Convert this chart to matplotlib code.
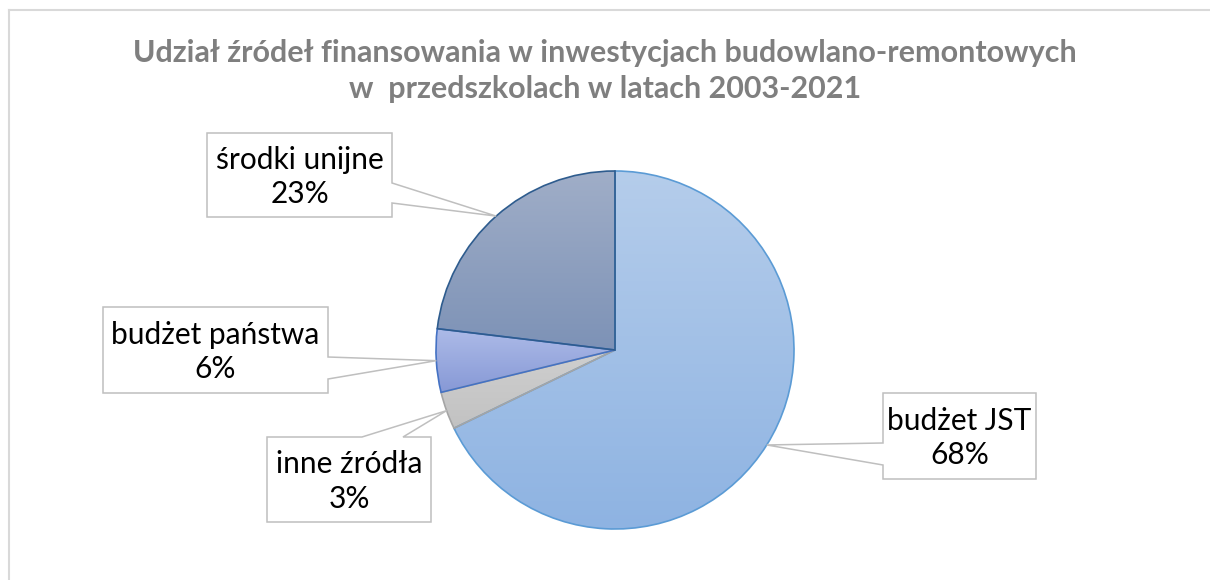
import numpy as np
import matplotlib.pyplot as plt
from matplotlib.patches import Polygon
from matplotlib.colors import LinearSegmentedColormap

plt.rcParams['font.family'] = ['Lato', 'DejaVu Sans']

# data
labels = ['budżet JST', 'inne źródła', 'budżet państwa', 'środki unijne']
shares = [67.8, 3.4, 5.7, 23.1]
title_lines = ['Udział źródeł finansowania w inwestycjach budowlano-remontowych',
               'w  przedszkolach w latach 2003-2021']

# slice styles: (gradient top, gradient bottom, edge)
styles = [('#b5cdeb', '#8eb3e2', '#5b9bd5'),
          ('#cfcfcf', '#c2c2c2', '#a5a5a5'),
          ('#adbbe8', '#8799d6', '#4472c4'),
          ('#a0aec8', '#7d92b6', '#2e5c8e')]

# callout boxes in image pixels (x0, y0, x1, y1), side of pointer, pointer base span
callouts = [((883, 393, 1036, 479), 'left', (443, 465)),
            ((267, 437, 431, 522), 'top', (362, 403)),
            ((103, 307, 328, 393), 'right', (357, 379)),
            ((207, 133, 392, 217), 'right', (183, 203))]

W, H = 1210, 580
cx, cy, R = 615, 350, 179

fig = plt.figure(figsize=(W / 100, H / 100), dpi=100)
ax = fig.add_axes([0, 0, 1, 1])

wedges, _ = ax.pie(shares, startangle=90, counterclock=False,
                   center=(cx, H - cy), radius=R,
                   wedgeprops=dict(linewidth=1.2))

grad = np.linspace(0, 1, 256).reshape(-1, 1)
for i, w in enumerate(wedges):
    top, bot, edge = styles[i]
    w.set_facecolor('none')
    w.set_edgecolor(edge)
    w.set_zorder(3 + i * 0.1)
    ext = w.get_path().get_extents()
    cmap = LinearSegmentedColormap.from_list('g%d' % i, [top, bot])
    im = ax.imshow(grad, cmap=cmap, origin='upper', aspect='auto',
                   extent=(ext.x0, ext.x1, ext.y0, ext.y1), zorder=2,
                   interpolation='bilinear')
    im.set_clip_path(w)

# callouts
for i, w in enumerate(wedges):
    (x0, y0, x1, y1), side, (a, b) = callouts[i]
    mid = np.deg2rad((w.theta1 + w.theta2) / 2)
    tx = cx + R * np.cos(mid)
    ty = (H - cy) + R * np.sin(mid)
    Y = lambda y: H - y
    if side == 'right':
        pts = [(x0, Y(y0)), (x1, Y(y0)), (x1, Y(a)), (tx, ty), (x1, Y(b)),
               (x1, Y(y1)), (x0, Y(y1))]
    elif side == 'left':
        pts = [(x0, Y(y0)), (x1, Y(y0)), (x1, Y(y1)), (x0, Y(y1)),
               (x0, Y(b)), (tx, ty), (x0, Y(a))]
    else:
        pts = [(x0, Y(y0)), (a, Y(y0)), (tx, ty), (b, Y(y0)), (x1, Y(y0)),
               (x1, Y(y1)), (x0, Y(y1))]
    ax.add_patch(Polygon(pts, closed=True, facecolor='white',
                         edgecolor='#bfbfbf', linewidth=1.1, zorder=5))
    ax.text((x0 + x1) / 2, Y((y0 + y1) / 2 + 2),
            '%s\n%d%%' % (labels[i], round(shares[i])),
            ha='center', va='center', fontsize=21.5, linespacing=1.3,
            color='black', zorder=6)

# title
ax.text(W / 2, H - 53, title_lines[0], ha='center', va='center',
        fontsize=22, fontweight='bold', color='#7f7f7f')
ax.text(W / 2, H - 89, title_lines[1], ha='center', va='center',
        fontsize=22, fontweight='bold', color='#7f7f7f')

# chart border (top and left)
ax.plot([8.5, W], [H - 9.5, H - 9.5], color='#d9d9d9', lw=1.5, zorder=1)
ax.plot([8.5, 8.5], [0, H - 9.5], color='#d9d9d9', lw=1.5, zorder=1)

ax.set_xlim(0, W)
ax.set_ylim(0, H)
ax.set_aspect('equal')
ax.set_axis_off()

fig.savefig('out.png', dpi=100, facecolor='white')
